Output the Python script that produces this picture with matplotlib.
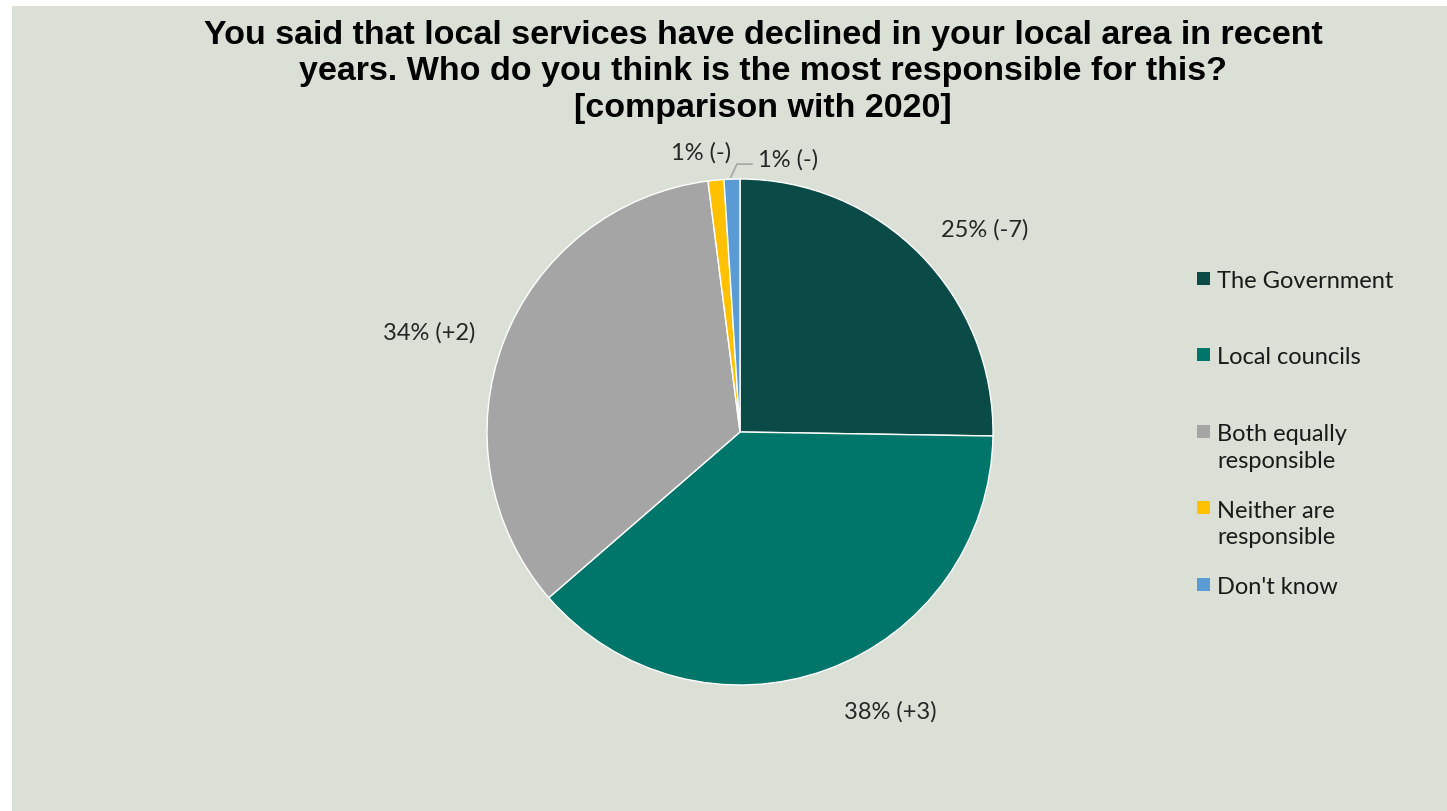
import matplotlib
matplotlib.use("Agg")
import matplotlib.pyplot as plt
from matplotlib.patches import Rectangle
from matplotlib.lines import Line2D

categories = ["The Government", "Local councils", "Both equally\nresponsible",
              "Neither are\nresponsible", "Don't know"]
values = [25, 38, 34, 1, 1]
changes = ["-7", "+3", "+2", "-", "-"]
colors = ["#0a4b47", "#00766a", "#a5a5a5", "#ffc000", "#5b9bd5"]
title = ("You said that local services have declined in your local area in recent\n"
         "years. Who do you think is the most responsible for this?\n"
         "[comparison with 2020]")

W, H = 1447, 812
BG = "#dbe0d7"
fig = plt.figure(figsize=(W / 100, H / 100), dpi=100)
fig.patch.set_facecolor("white")
fig.add_artist(Rectangle((12 / W, 0), 1 - 12 / W, 1 - 7 / H,
                         transform=fig.transFigure, facecolor=BG,
                         edgecolor="none", zorder=0))

cx, cy, r = 740, 433, 253
ax = fig.add_axes([(cx - r) / W, (H - cy - r) / H, 2 * r / W, 2 * r / H])
ax.set_facecolor("none")
wedges, _ = ax.pie(values, colors=colors, startangle=90, counterclock=False,
                   radius=1, wedgeprops=dict(linewidth=1.0, edgecolor="white"))
ax.set_xlim(-1, 1)
ax.set_ylim(-1, 1)
ax.set_aspect("equal")
ax.axis("off")

label_font = "Lato"
label_pos = [(0.968, 0.802), (0.593, -1.103), (-1.229, 0.395),
             (-0.154, 1.107), (0.190, 1.079)]
for v, c, (x, y) in zip(values, changes, label_pos):
    ax.text(x, y, f"{v}% ({c})", ha="center", va="center", fontsize=17,
            family=label_font, color="#262626", clip_on=False)
ax.add_line(Line2D([-0.036, -0.012, 0.047], [1.008, 1.059, 1.059],
                   color="#a5a5a5", lw=1.2, clip_on=False))

fig.text(763 / W, 1 - 20 / H, title, ha="center", va="top", fontsize=24.5,
         fontweight="bold", family="Liberation Sans", color="black",
         linespacing=1.225)

# legend
lx, ly0, step, ms = 1197, 279, 76.5, 13
for i, (cat, col) in enumerate(zip(categories, colors)):
    y = ly0 + step * i
    fig.add_artist(Rectangle((lx / W, 1 - (y + ms / 2) / H), ms / W, ms / H,
                             transform=fig.transFigure, facecolor=col,
                             edgecolor="none"))
    fig.text((lx + 20) / W, 1 - (y - 8) / H, cat, ha="left", va="top",
             fontsize=17, family=label_font, color="#1a1a1a", linespacing=1.34)

fig.savefig("out.png", dpi=100, facecolor=fig.get_facecolor())
